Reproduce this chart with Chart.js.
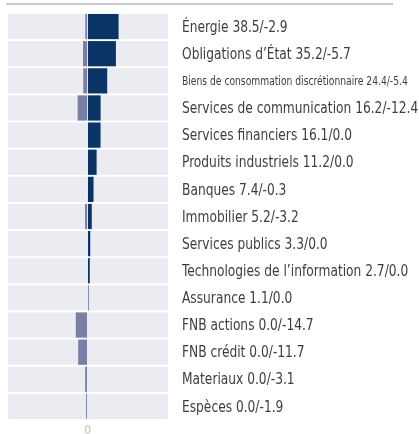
<!DOCTYPE html>
<html>
<head>
<meta charset="utf-8">
<script src="https://cdn.jsdelivr.net/npm/chart.js@4/dist/chart.umd.min.js"></script>
<style>
  html, body { margin: 0; padding: 0; background: #fff; }
  #wrap { width: 419px; height: 434px; position: relative; }
</style>
</head>
<body>
<div id="wrap"><canvas id="chart"></canvas></div>
<script>
const sectors = [
    'Énergie', 'Obligations d’État', 'Biens de consommation discrétionnaire',
    'Services de communication', 'Services financiers', 'Produits industriels',
    'Banques', 'Immobilier', 'Services publics', 'Technologies de l’information',
    'Assurance', 'FNB actions', 'FNB crédit', 'Materiaux', 'Espèces'
];
const overweight = [38.5, 35.2, 24.4, 16.2, 16.1, 11.2, 7.4, 5.2, 3.3, 2.7, 1.1, 0.0, 0.0, 0.0, 0.0];
const underweight = [-2.9, -5.7, -5.4, -12.4, 0.0, 0.0, -0.3, -3.2, 0.0, 0.0, 0.0, -14.7, -11.7, -3.1, -1.9];
const xTicks = [0];

const labels = sectors.map((s, i) => `${s} ${overweight[i].toFixed(1)}/${underweight[i].toFixed(1)}`);

const FONT = '"DejaVu Sans Condensed", "Liberation Sans Narrow", sans-serif';
const SQUEEZE = 0.85; // the original uses a condensed face

// row bands, top rule and the white line at zero
const decor = {
    id: 'decor',
    beforeDatasetsDraw(chart) {
        const { ctx, chartArea, scales } = chart;
        const y = scales.y;
        const step = (y.getPixelForValue(1) - y.getPixelForValue(0));
        ctx.save();
        ctx.fillStyle = '#ebecf2';
        sectors.forEach((s, i) => {
            const c = y.getPixelForValue(i);
            ctx.fillRect(chartArea.left, c - step / 2 + 1, chartArea.right - chartArea.left, step - 2);
        });
        ctx.fillStyle = '#cacaca';
        ctx.fillRect(6, 3, 387, 2);
        ctx.restore();
    },
    afterDatasetsDraw(chart) {
        const { ctx, chartArea, scales } = chart;
        const x0 = Math.round(scales.x.getPixelForValue(0));
        ctx.save();
        ctx.fillStyle = '#ffffff';
        ctx.globalAlpha = 0.8;
        ctx.fillRect(x0 - 1, chartArea.top, 1, chartArea.bottom - chartArea.top);
        ctx.restore();
    },
    afterDraw(chart) {
        // category labels, squeezed horizontally
        const { ctx, chartArea, scales } = chart;
        const left = chartArea.right + 14;
        ctx.save();
        ctx.fillStyle = '#3d3d3d';
        ctx.textBaseline = 'middle';
        ctx.textAlign = 'left';
        labels.forEach((txt, i) => {
            const cy = scales.y.getPixelForValue(i);
            ctx.font = `${i === 2 ? 12 : 16}px ${FONT}`;
            ctx.save();
            ctx.translate(left, cy + 1);
            ctx.scale(SQUEEZE, 1);
            ctx.fillText(txt, 0, 0);
            ctx.restore();
        });
        ctx.restore();
    }
};

new Chart(document.getElementById('chart'), {
    type: 'bar',
    data: {
        labels: labels,
        datasets: [
            {
                label: 'Surpondération',
                data: overweight,
                backgroundColor: '#0b3466',
                grouped: false,
                barPercentage: 0.93,
                categoryPercentage: 1
            },
            {
                label: 'Sous-pondération',
                data: underweight,
                backgroundColor: '#7a7fa6',
                grouped: false,
                barPercentage: 0.93,
                categoryPercentage: 1
            }
        ]
    },
    options: {
        indexAxis: 'y',
        responsive: true,
        maintainAspectRatio: false,
        animation: false,
        layout: { padding: { left: 8, top: 13, right: 0, bottom: 0 } },
        scales: {
            x: {
                min: -99,
                max: 100,
                grid: { display: false, drawTicks: false },
                border: { display: false },
                afterBuildTicks: (axis) => { axis.ticks = xTicks.map(v => ({ value: v })); },
                afterFit: (axis) => { axis.height = 14; axis.paddingLeft = 0; axis.paddingRight = 0; },
                ticks: {
                    color: '#c0c0c0',
                    padding: 4,
                    font: { family: FONT, size: 12 }
                }
            },
            y: {
                position: 'right',
                grid: { display: false, drawTicks: false },
                border: { display: false },
                afterFit: (axis) => { axis.width = 251; axis.paddingTop = 0; axis.paddingBottom = 0; },
                ticks: { display: false }
            }
        },
        plugins: {
            legend: { display: false },
            tooltip: { enabled: false }
        }
    },
    plugins: [decor]
});
</script>
</body>
</html>
